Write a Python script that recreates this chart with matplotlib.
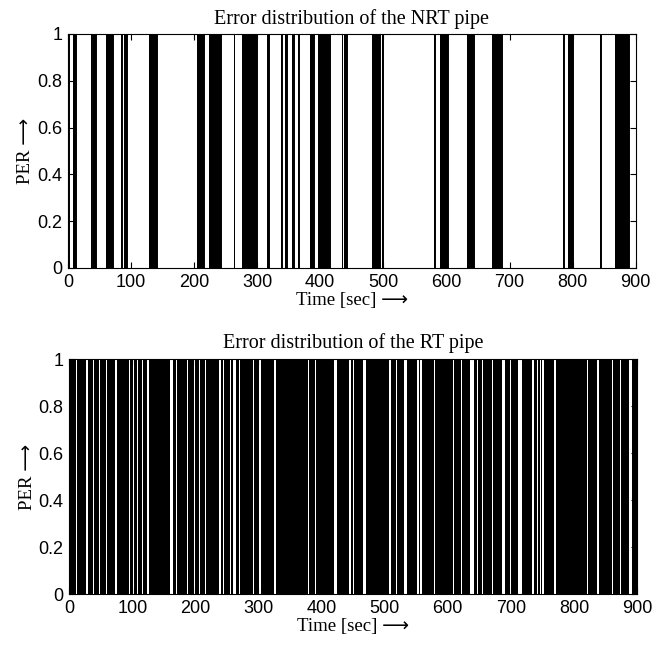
import matplotlib
matplotlib.use("Agg")
import matplotlib.pyplot as plt
import numpy as np

# NRT pipe: error bursts (PER = 1) as start / end times in seconds
nrt_start = [0, 8, 36, 40, 60, 84, 89, 129, 204, 224, 263, 276, 315, 338, 344,
             355, 364, 384, 396, 434, 437, 482, 498, 581, 590, 633, 672, 784,
             792, 844, 867]
nrt_end = [1, 13, 37.5, 44, 71, 86, 93, 141, 216, 242, 264, 299, 318, 340, 347,
           358, 367, 390, 415, 435, 442, 494, 500, 582, 603, 643, 688, 786,
           801, 845, 889]

# RT pipe: nearly always in error, these are the error-free gaps (PER = 0)
rt_gap_start = [11, 26, 37, 47, 58.5, 72, 85, 94, 101, 108, 115, 123, 140, 149.5,
                160, 170, 186, 198, 206, 215.5, 238, 244.5, 255, 260, 269, 292,
                301, 313, 325, 355.5, 379, 390, 419, 443, 450.5, 466, 479.5,
                487.5, 507.5, 518, 530, 552, 556, 570, 578, 598.5, 609, 620.8,
                635.5, 647, 654.8, 670.6, 686.5, 699, 712, 733.3, 741, 746, 750,
                757, 767.6, 783.5, 804.6, 820.4, 836, 844, 852, 860, 873.2, 886.6]
rt_gap_end = [12, 29, 38.5, 49, 59.5, 75.5, 86, 95.6, 102, 109, 117, 126, 141,
              150.5, 165, 171, 188, 199, 207.6, 216.5, 241, 245.6, 256, 263.6,
              271, 293, 304, 314, 328, 356.5, 380, 391, 424, 446.5, 451.5,
              470.5, 480.5, 488.5, 510.5, 519, 535, 554, 559, 571, 579, 599.5,
              610, 621.8, 641, 648, 655.8, 671.6, 690, 700, 717.5, 737, 743,
              748, 752, 758, 772, 784.5, 805.6, 823, 839, 845, 853, 862.6,
              874.2, 891.8]

t_max = 900
x_ticks = np.arange(0, 901, 100)
y_ticks = [0, 0.2, 0.4, 0.6, 0.8, 1]
y_ticklabels = ["0", "0.2", "0.4", "0.6", "0.8", "1"]

serif = ["Liberation Serif", "DejaVu Sans"]


def step_signal(starts, ends, inside, outside):
    x, y = [0], [outside]
    for s, e in zip(starts, ends):
        x += [s, s, e, e]
        y += [outside, inside, inside, outside]
    x.append(t_max)
    y.append(outside)
    return np.array(x), np.array(y)


def style(ax, title, title_pad):
    ax.set_xlim(0, t_max)
    ax.set_ylim(0, 1)
    ax.set_xticks(x_ticks)
    ax.set_yticks(y_ticks)
    ax.set_yticklabels(y_ticklabels)
    ax.tick_params(direction="in", top=True, right=True, length=4,
                   labelsize=13, pad=4)
    for lab in ax.get_xticklabels() + ax.get_yticklabels():
        lab.set_family("Liberation Sans")
    for sp in ax.spines.values():
        sp.set_linewidth(0.8)
    ax.set_title(title, family=serif, fontsize=14.5, pad=title_pad)
    ax.set_xlabel("Time [sec] \u27f6", family=serif, fontsize=13.5, labelpad=1)
    ax.set_ylabel("PER \u27f6", family=serif, fontsize=13.5, labelpad=2)


fig = plt.figure(figsize=(6.72, 6.45), dpi=100)
ax1 = fig.add_axes([0.101, 0.5845, 0.845, 0.3628])
ax2 = fig.add_axes([0.103, 0.079, 0.845, 0.3643])

x, y = step_signal(nrt_start, nrt_end, 1, 0)
ax1.fill_between(x, 0, y, color="black", linewidth=0)
ax1.plot(x, y, color="black", linewidth=0.7)
style(ax1, "Error distribution of the NRT pipe", 7)

x, y = step_signal(rt_gap_start, rt_gap_end, 0, 1)
ax2.fill_between(x, 0, y, color="black", linewidth=0)
style(ax2, "Error distribution of the RT pipe", 8)

fig.savefig("out.png", dpi=100)
